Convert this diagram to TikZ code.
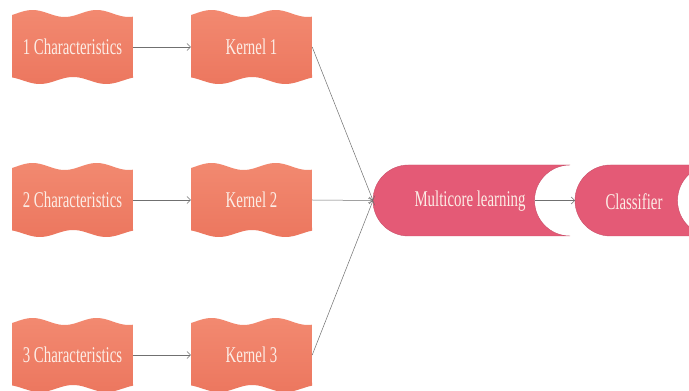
\documentclass[tikz,border=0pt]{standalone}
\usepackage{fontspec}
\setmainfont{Liberation Serif}
\usetikzlibrary{arrows.meta}
\definecolor{wavetop}{HTML}{F28970}
\definecolor{wavebot}{HTML}{EC775F}
\definecolor{pinkfill}{HTML}{E45A76}
\definecolor{pinkdraw}{HTML}{C9506A}
\definecolor{txtlight}{HTML}{FCEDE6}
\definecolor{conncol}{HTML}{707070}
\tikzset{
  conn/.style={draw=conncol, line width=0.5pt, -{Straight Barb[length=3.5pt,width=7pt]}},
  lbl/.style={inner sep=0pt, text=txtlight, font=\fontsize{22.5}{24}\selectfont},
  wavefill/.style={top color=wavetop, bottom color=wavebot, draw=none},
  pinkshape/.style={fill=pinkfill, draw=pinkdraw, line width=0.4pt},
}
\newcommand{\wavebox}[4]{%
  \path[wavefill]
    plot[domain=0:1, samples=50, variable=\u] ({#2-60.5+121*\u},{#3+33.5+3.5*cos(360*(\u-0.17)/0.53)})
    -- plot[domain=1:0, samples=50, variable=\u] ({#2-60.5+121*\u},{#3-33.5-3.5*cos(360*(\u-0.23)/0.55)})
    -- cycle;
  \node[lbl, minimum width=121pt, minimum height=67pt] (#1) at (#2,#3) {\scalebox{0.66}[1]{#4}};
}
\begin{document}
\begin{tikzpicture}[x=1pt,y=1pt]
\useasboundingbox (0,0) rectangle (689,391);
\clip (0,0) rectangle (689,391);
\fill[white] (0,0) rectangle (689,391);
% wave boxes
\wavebox{c1}{72.5}{344}{1 Characteristics}
\wavebox{c2}{72.5}{191}{2 Characteristics}
\wavebox{c3}{72.5}{36}{3 Characteristics}
\wavebox{k1}{251.5}{344}{Kernel 1}
\wavebox{k2}{251.5}{191}{Kernel 2}
\wavebox{k3}{251.5}{36}{Kernel 3}
% pink shapes
\path[pinkshape] (570,226) -- (408.5,226) arc[start angle=90,end angle=270,radius=35.5pt]
  -- (570,155) arc[start angle=270,end angle=90,radius=35.5pt] -- cycle;
\path[pinkshape] (713,226) -- (610.5,226) arc[start angle=90,end angle=270,radius=35.5pt]
  -- (713,155) arc[start angle=270,end angle=90,radius=35.5pt] -- cycle;
\node[lbl] (ml) at (470,189.5) {\scalebox{0.66}[1]{Multicore learning}};
\node[lbl] (cl) at (634,189.5) {\scalebox{0.66}[1]{Classifier}};
\coordinate (mlL) at (373,190.5);
\coordinate (mlR) at (534.5,190.5);
\coordinate (clL) at (575,190.5);
% connectors
\draw[conn] (c1.east) -- (k1.west);
\draw[conn] (c2.east) -- (k2.west);
\draw[conn] (c3.east) -- (k3.west);
\draw[conn] (k1.east) -- (mlL);
\draw[conn] (k2.east) -- (mlL);
\draw[conn] (k3.east) -- (mlL);
\draw[conn] (mlR) -- (clL);
\end{tikzpicture}
\end{document}
